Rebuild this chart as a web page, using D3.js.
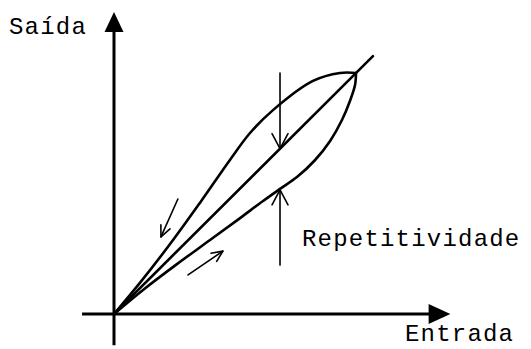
<!DOCTYPE html>
<html>
<head>
<meta charset="utf-8">
<script src="https://cdn.jsdelivr.net/npm/d3@7"></script>
<style>
  body { margin: 0; background: #fff; }
  text { font-family: "Liberation Mono", "Courier New", monospace; fill: #000; }
</style>
</head>
<body>
<svg></svg>
<script>
// loop branches (input, output), normalised so the turning point is (1, 1)
const upperX = [0, 0.107, 0.244, 0.355, 0.479, 0.562, 0.657, 0.822, 0.934, 1];
const upperY = [0, 0.129, 0.307, 0.461, 0.639, 0.751, 0.846, 0.967, 1.0, 1];
const lowerX = [1, 0.996, 0.975, 0.942, 0.893, 0.831, 0.756, 0.686, 0.616, 0.521, 0.397, 0.260, 0.120, 0];
const lowerY = [1, 0.950, 0.884, 0.805, 0.718, 0.639, 0.568, 0.519, 0.469, 0.398, 0.307, 0.207, 0.100, 0];
const idealX = [0, 1.07];
const idealY = [0, 1.07];

// repeatability markers
const repX = 0.686;
const repTop = [1.0, 0.686];     // from, to (arrow points at "to")
const repBottom = [0.203, 0.515];

// direction arrows on the branches: [x0, y0, x1, y1], head at the end
const dirArrows = [
  [0.264, 0.477, 0.194, 0.320],
  [0.306, 0.162, 0.450, 0.261]
];

const labels = ["Saída", "Entrada", "Repetitividade"];

const svgWidth = 531;
const svgHeight = 349;

const svg = d3.select("svg")
    .attr("width", svgWidth)
    .attr("height", svgHeight);

const x = d3.scaleLinear().domain([0, 1]).range([114, 356]);
const y = d3.scaleLinear().domain([0, 1]).range([314, 73]);

const line = d3.line()
    .x(d => x(d[0]))
    .y(d => y(d[1]))
    .curve(d3.curveCatmullRom.alpha(0.5));

const upper = upperX.map((v, i) => [v, upperY[i]]);
const lower = lowerX.map((v, i) => [v, lowerY[i]]);
const ideal = idealX.map((v, i) => [v, idealY[i]]);

// axes
svg.append("line")
    .attr("x1", x(-0.132)).attr("x2", x(1.31))
    .attr("y1", y(0)).attr("y2", y(0))
    .attr("stroke", "#000").attr("stroke-width", 3);
svg.append("path")
    .attr("d", `M${x(1.39)},${y(0)} L${x(1.30)},${y(0) - 10} L${x(1.30)},${y(0) + 10} Z`)
    .attr("fill", "#000");

svg.append("line")
    .attr("x1", x(0)).attr("x2", x(0))
    .attr("y1", y(-0.13)).attr("y2", y(1.17))
    .attr("stroke", "#000").attr("stroke-width", 3);
svg.append("path")
    .attr("d", `M${x(0)},${y(1.253)} L${x(0) - 9.5},${y(1.17)} L${x(0) + 9.5},${y(1.17)} Z`)
    .attr("fill", "#000");

// curves
[upper, lower, ideal].forEach(pts => {
  svg.append("path")
      .datum(pts)
      .attr("fill", "none")
      .attr("stroke", "#000")
      .attr("stroke-width", 2.6)
      .attr("stroke-linejoin", "round")
      .attr("stroke-linecap", "round")
      .attr("d", line);
});

// arrow with open chevron head
function arrow(x0, y0, x1, y1, len, half) {
  const px0 = x(x0), py0 = y(y0), px1 = x(x1), py1 = y(y1);
  const a = Math.atan2(py1 - py0, px1 - px0);
  const bx = px1 - len * Math.cos(a), by = py1 - len * Math.sin(a);
  const nx = -Math.sin(a) * half, ny = Math.cos(a) * half;
  const g = svg.append("g")
      .attr("fill", "none")
      .attr("stroke", "#000")
      .attr("stroke-width", 1.6)
      .attr("stroke-linecap", "round")
      .attr("stroke-linejoin", "round");
  g.append("line").attr("x1", px0).attr("y1", py0).attr("x2", px1).attr("y2", py1);
  g.append("path").attr("d", `M${bx + nx},${by + ny} L${px1},${py1} L${bx - nx},${by - ny}`);
}

arrow(repX, repTop[0], repX, repTop[1], 15, 8);
arrow(repX, repBottom[0], repX, repBottom[1], 15, 8);
dirArrows.forEach(d => arrow(d[0], d[1], d[2], d[3], 11, 5));

// labels
const label = (t, lx, ly) => svg.append("text")
    .attr("x", lx).attr("y", ly)
    .style("font-size", "24px")
    .style("letter-spacing", "1.2px")
    .text(t);

label(labels[0], 9, 34);
label(labels[1], 405, 341);
label(labels[2], 302, 246);
</script>
</body>
</html>
